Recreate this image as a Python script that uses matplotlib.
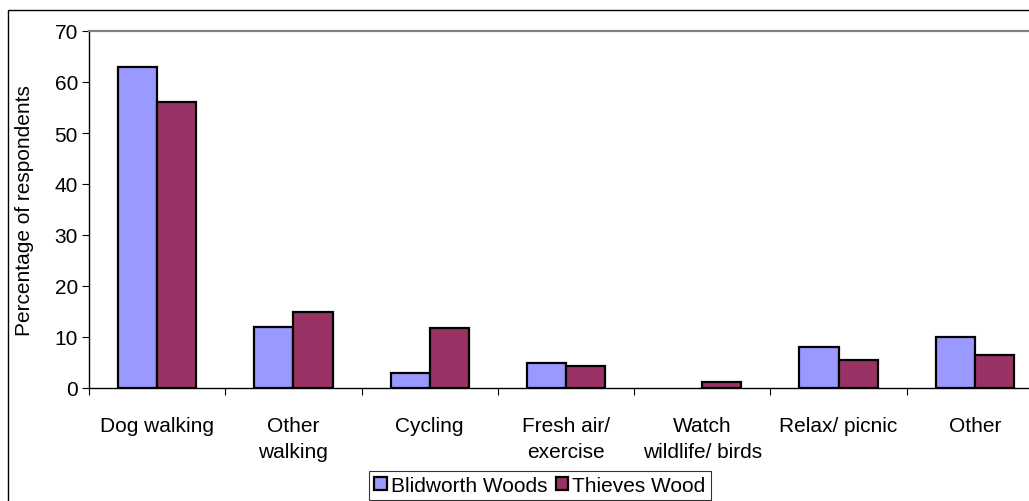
import matplotlib.pyplot as plt
import matplotlib.patches as patches
import numpy as np

plt.rcParams['font.family'] = ['Liberation Sans', 'DejaVu Sans']

categories = ['Dog walking', 'Other\nwalking', 'Cycling', 'Fresh air/\nexercise',
              'Watch\nwildlife/ birds', 'Relax/ picnic', 'Other']
blidworth = [63, 12, 3, 5, 0, 8, 10]
thieves = [56, 15, 11.8, 4.4, 1.1, 5.4, 6.4]

fs = 15
fig = plt.figure(figsize=(10.29, 5.02), dpi=100)
ax = fig.add_axes([89/1029, 113/502, 954/1029, 357/502])

x = np.arange(len(categories))
w = 0.287
# zero-height bars get no outline (nothing drawn in the original)
lw_b = [1.6 if v > 0 else 0 for v in blidworth]
lw_t = [1.6 if v > 0 else 0 for v in thieves]
ax.bar(x - w, blidworth, w, align='edge', color='#9999FF', edgecolor='black',
       linewidth=lw_b, label='Blidworth Woods', zorder=3)
ax.bar(x, thieves, w, align='edge', color='#993366', edgecolor='black',
       linewidth=lw_t, label='Thieves Wood', zorder=3)

ax.set_xlim(-0.5, 6.5)
ax.set_ylim(0, 70)
ax.set_yticks(range(0, 71, 10))
ax.set_xticks(x)
ax.set_xticklabels(categories, fontsize=fs, linespacing=1.45)
ax.set_xticks(np.arange(-0.5, 7, 1), minor=True)
ax.tick_params(axis='x', which='major', length=0, pad=20)
ax.tick_params(axis='x', which='minor', length=5, width=0.8, direction='out')
ax.tick_params(axis='y', labelsize=fs, length=5, width=0.8, pad=3)

ax.spines['top'].set_color('#808080')
ax.spines['top'].set_linewidth(1.6)
ax.spines['right'].set_visible(False)
ax.spines['left'].set_linewidth(1.0)
ax.spines['bottom'].set_linewidth(1.0)

ax.set_ylabel('Percentage of respondents', fontsize=fs)
ax.yaxis.set_label_coords(-0.0577, 0.5)

leg = fig.legend(loc='upper center', bbox_to_anchor=(540/1029, 1 - 472/502),
                 ncol=2, fontsize=fs, frameon=True, fancybox=False,
                 handlelength=0.6, handleheight=0.6, handletextpad=0.2,
                 columnspacing=0.4, borderpad=0.25, borderaxespad=0)
leg.get_frame().set_edgecolor('black')
leg.get_frame().set_linewidth(0.8)

border = patches.Rectangle((8/1029, -0.1), 1.1, 0.1 + 1 - 11/502,
                           transform=fig.transFigure, fill=False,
                           edgecolor='black', linewidth=1.0)
fig.add_artist(border)

fig.savefig('out.png', dpi=100)
